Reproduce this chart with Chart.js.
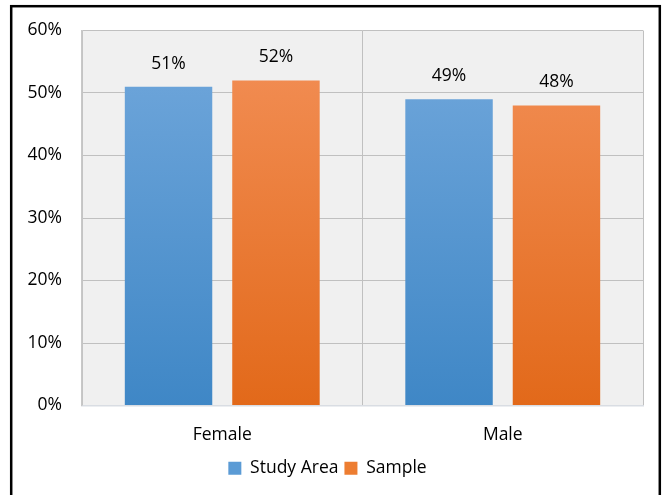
<!DOCTYPE html>
<html><head><meta charset="utf-8">
<script src="https://cdn.jsdelivr.net/npm/chart.js@4"></script>
<style>html,body{margin:0;padding:0;background:#fff;}#wrap{position:relative;width:670px;height:495px;}</style>
</head><body><div id="wrap"><canvas id="c" width="670" height="495"></canvas></div>
<script>
const categories = ["Female", "Male"];
const studyArea = [51, 49];
const sample = [52, 48];
const yTicks = [0, 10, 20, 30, 40, 50, 60];
const FONT = "'Open Sans', sans-serif";
const FS = 17.5;

function grad(ctx, top, bottom) {
  const ch = ctx.chart, a = ch.chartArea;
  if (!a) return bottom;
  const g = ch.ctx.createLinearGradient(0, a.top, 0, a.bottom);
  g.addColorStop(0, top); g.addColorStop(1, bottom);
  return g;
}
const frame = {
  id: 'frame',
  beforeDraw(ch) {
    const c = ch.ctx, a = ch.chartArea;
    c.save();
    c.fillStyle = '#fff'; c.fillRect(0, 0, ch.width, ch.height);
    c.fillStyle = '#f0f0f0'; c.fillRect(a.left, a.top, a.right - a.left, a.bottom - a.top);
    c.strokeStyle = '#000'; c.lineWidth = 2.5;
    c.strokeRect(11.2, 6.2, 648.6, 500);
    c.restore();
  },
  afterDatasetsDraw(ch) {
    const c = ch.ctx;
    c.save();
    c.font = FS + "px " + FONT; c.fillStyle = '#000'; c.textAlign = 'center'; c.textBaseline = 'middle';
    ch.data.datasets.forEach((ds, i) => {
      ch.getDatasetMeta(i).data.forEach((el, j) => {
        c.fillText(ds.data[j] + '%', el.x, el.y - 23);
      });
    });
    c.restore();
  }
};
new Chart(document.getElementById('c'), {
  type: 'bar',
  data: {
    labels: categories,
    datasets: [
      { label: 'Study Area', data: studyArea, backgroundColor: c => grad(c, '#72a8dc', '#3f87c6'), borderWidth: 0 },
      { label: 'Sample', data: sample, backgroundColor: c => grad(c, '#f39058', '#e2691a'), borderWidth: 0 }
    ]
  },
  options: {
    responsive: false, animation: false,
    layout: { padding: { left: 12, right: 27, top: 28, bottom: 8 } },
    categoryPercentage: 0.766, barPercentage: 0.814,
    plugins: {
      tooltip: { enabled: false },
      legend: {
        position: 'bottom',
        labels: { font: { family: FONT, size: FS }, color: '#000', boxWidth: 13, boxHeight: 13, padding: 6,
          generateLabels: ch => [
            { text: 'Study Area', fillStyle: '#5b9bd5', strokeStyle: '#5b9bd5', lineWidth: 0, datasetIndex: 0 },
            { text: 'Sample', fillStyle: '#ed7d31', strokeStyle: '#ed7d31', lineWidth: 0, datasetIndex: 1 }
          ] }
      }
    },
    scales: {
      x: {
        grid: { offset: true, color: '#c0c0c0', drawTicks: false },
        border: { color: '#d9dde3', width: 1.5 },
        ticks: { font: { family: FONT, size: FS }, color: '#000', padding: 19 },
        afterFit: s => { s.height = 48; }
      },
      y: {
        min: 0, max: 60,
        grid: { color: '#c0c0c0', drawTicks: false },
        border: { color: '#c8c8c8', width: 1.5 },
        ticks: { stepSize: 10, font: { family: FONT, size: FS }, color: '#000', padding: 20, callback: v => yTicks.includes(v) ? v + '%' : '' },
        afterFit: s => { s.width = 70; }
      }
    }
  },
  plugins: [frame]
});
</script></body></html>
